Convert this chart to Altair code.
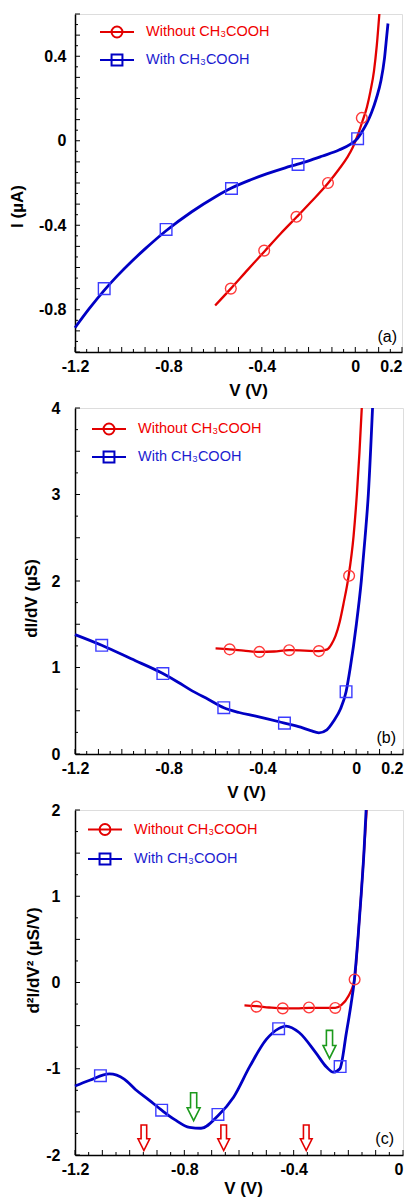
import altair as alt
import pandas as pd
import numpy as np

FONT = "Liberation Sans"
NAME_WO = "Without CH₃COOH"
NAME_W = "With CH₃COOH"

# ---------------- Panel (a): I-V ----------------
a_red_V = [-0.60, -0.533, -0.46, -0.39, -0.32, -0.25, -0.19, -0.116, -0.07, -0.035, -0.01, 0.01, 0.03, 0.05, 0.065, 0.08, 0.092, 0.103]
a_red_Y = [-0.78, -0.70, -0.61, -0.525, -0.44, -0.36, -0.29, -0.20, -0.135, -0.08, -0.03, 0.025, 0.09, 0.16, 0.235, 0.33, 0.45, 0.60]
a_blue_V = [-1.2, -1.14, -1.075, -1.02, -0.96, -0.9, -0.81, -0.7, -0.6, -0.53, -0.45, -0.38, -0.3, -0.25, -0.2, -0.14, -0.07, -0.02, 0.01, 0.03, 0.05, 0.07, 0.09, 0.11, 0.125, 0.135, 0.14]
a_blue_Y = [-0.885, -0.796, -0.708, -0.641, -0.574, -0.512, -0.426, -0.336, -0.266, -0.224, -0.186, -0.157, -0.128, -0.112, -0.095, -0.072, -0.044, -0.016, 0.011, 0.045, 0.085, 0.135, 0.2, 0.285, 0.39, 0.5, 0.555]
a_red_mV = [-0.533, -0.39, -0.252, -0.117, 0.028]
a_red_mY = [-0.70, -0.52, -0.36, -0.20, 0.108]
a_blue_mV = [-1.075, -0.81, -0.53, -0.245, 0.01]
a_blue_mY = [-0.70, -0.42, -0.226, -0.112, 0.01]

# ---------------- Panel (b): dI/dV ----------------
b_red_V = [-0.60, -0.54, -0.48, -0.413, -0.35, -0.286, -0.22, -0.159, -0.123, -0.105, -0.088, -0.07, -0.053, -0.032, -0.011, 0.003, 0.014, 0.024]
b_red_Y = [1.22, 1.21, 1.195, 1.18, 1.185, 1.20, 1.195, 1.19, 1.21, 1.27, 1.365, 1.53, 1.75, 2.06, 2.52, 3.0, 3.48, 4.0]
b_blue_V = [-1.2, -1.086, -0.96, -0.825, -0.76, -0.7, -0.63, -0.565, -0.5, -0.433, -0.37, -0.306, -0.237, -0.194, -0.159, -0.125, -0.095, -0.067, -0.043, -0.025, 0.001, 0.022, 0.038, 0.052, 0.07]
b_blue_Y = [1.38, 1.257, 1.1, 0.93, 0.83, 0.73, 0.63, 0.535, 0.48, 0.44, 0.40, 0.357, 0.31, 0.27, 0.245, 0.28, 0.385, 0.52, 0.72, 1.0, 1.5, 2.0, 2.5, 3.0, 4.0]
b_red_mV = [-0.54, -0.413, -0.286, -0.159, -0.03]
b_red_mY = [1.21, 1.18, 1.2, 1.19, 2.06]
b_blue_mV = [-1.086, -0.825, -0.565, -0.306, -0.043]
b_blue_mY = [1.257, 0.93, 0.535, 0.357, 0.72]

# ---------------- Panel (c): d2I/dV2 ----------------
c_red_V = [-0.58, -0.536, -0.49, -0.44, -0.39, -0.344, -0.296, -0.248, -0.225, -0.2, -0.177, -0.165, -0.153, -0.143, -0.133]
c_red_Y = [-0.266, -0.275, -0.29, -0.30, -0.30, -0.295, -0.295, -0.295, -0.26, -0.16, 0.04, 0.5, 1.02, 1.5, 2.0]
c_blue_V = [-1.2, -1.146, -1.074, -1.02, -0.979, -0.93, -0.883, -0.835, -0.781, -0.739, -0.677, -0.62, -0.56, -0.50, -0.455, -0.428, -0.38, -0.32, -0.28, -0.255, -0.231, -0.207, -0.19, -0.179, -0.165, -0.153, -0.143, -0.135]
c_blue_Y = [-1.2, -1.133, -1.06, -1.12, -1.24, -1.36, -1.48, -1.59, -1.68, -1.69, -1.545, -1.33, -0.97, -0.66, -0.535, -0.505, -0.58, -0.81, -0.98, -1.04, -1.0, -0.58, -0.25, 0.0, 0.5, 1.02, 1.5, 2.0]
c_red_mV = [-0.536, -0.44, -0.344, -0.248, -0.177]
c_red_mY = [-0.28, -0.30, -0.29, -0.295, 0.035]
c_blue_mV = [-1.107, -0.883, -0.677, -0.455, -0.23]
c_blue_mY = [-1.08, -1.48, -1.53, -0.535, -0.975]
c_green_arrow_V = [-0.766, -0.269]
c_green_arrow_Y = [-1.44, -0.717]
c_red_arrow_V = [-0.948, -0.656, -0.354]
c_red_arrow_Y = [-1.80, -1.80, -1.80]

# ---------------- styles ----------------
RED_LINE = "#e30000"
BLUE_LINE = "#0000c4"
RED_MK = "#ff3a3a"
BLUE_MK = "#3c3cff"
GREEN = "#1c9a1c"
RED_LBL = "#f00000"
BLUE_LBL = "#1c1cd0"
PATH_CIRC = "M-1,0L1,0M0.32,0A0.32,0.32,0,1,1,-0.32,0A0.32,0.32,0,1,1,0.32,0"
PATH_SQ = "M-1,0L1,0M-0.32,-0.32L0.32,-0.32L0.32,0.32L-0.32,0.32Z"
ARROW = "M-0.22,-1L0.22,-1L0.22,0.08L0.46,0.08L0,1L-0.46,0.08L-0.22,0.08Z"


def rng(a, b, step):
    n = int(round((b - a) / step))
    return [round(a + i * step, 4) for i in range(n + 1)]


def panel(cfg):
    xs = alt.Scale(domain=cfg["xdom"], nice=False, zero=False)
    ys = alt.Scale(domain=cfg["ydom"], nice=False, zero=False)
    x0, x1 = cfg["xdom"]
    y0, y1 = cfg["ydom"]
    xaxis = alt.Axis(values=cfg["xlabels"], labelExpr="toString(datum.value)", ticks=False, grid=False,
                     labelFlush=False,
                     labelAlign={"condition": {"test": cfg["last_test"], "value": "right"}, "value": "center"},
                     title="V (V)", labelFontSize=16, labelFontWeight="bold", labelPadding=6,
                     titleFontSize=17, titleFontWeight="bold", titleX=cfg["xtitle_x"], titleY=cfg["xtitle_y"],
                     titleBaseline="middle", domainColor="black", domainWidth=1.5,
                     labelColor="black", titleColor="black")
    yaxis = alt.Axis(values=cfg["ylabels"], labelExpr="toString(datum.value)", ticks=False, grid=False,
                     labelFlush=False, title=cfg["ytitle"], labelFontSize=16, labelFontWeight="bold",
                     labelPadding=cfg["ylabpad"], titleFontSize=17, titleFontWeight="bold",
                     titleX=cfg["ytitle_x"], titleY=cfg["ytitle_y"],
                     titleBaseline="middle", titleAlign="center", titleAngle=270,
                     domainColor="black", domainWidth=1.5, labelColor="black", titleColor="black")

    def df(v, y):
        return pd.DataFrame({"V": v, "y": y})

    def XY():
        return dict(x=alt.X("V:Q", scale=xs, axis=xaxis), y=alt.Y("y:Q", scale=ys, axis=yaxis))

    layers = []
    layers.append(alt.Chart(df(cfg["rV"], cfg["rY"])).mark_line(color=RED_LINE, strokeWidth=2.3, interpolate="monotone").encode(**XY()))
    layers.append(alt.Chart(df(cfg["bV"], cfg["bY"])).mark_line(color=BLUE_LINE, strokeWidth=2.8, interpolate="monotone").encode(**XY()))
    layers.append(alt.Chart(df(cfg["rmV"], cfg["rmY"])).mark_point(shape="circle", size=115, filled=False, color=RED_MK, strokeWidth=1.4, opacity=1).encode(**XY()))
    layers.append(alt.Chart(df(cfg["bmV"], cfg["bmY"])).mark_point(shape="square", size=135, filled=False, color=BLUE_MK, strokeWidth=1.4, opacity=1).encode(**XY()))

    for av, ay, col, sz in cfg.get("arrows", []):
        layers.append(alt.Chart(df(av, ay)).mark_point(shape=ARROW, size=sz, filled=True, fill="white", stroke=col, strokeWidth=1.6, opacity=1).encode(**XY()))

    for vals, ln in ((cfg["xmaj"], 5), (cfg["xmin"], 3)):
        layers.append(alt.Chart(pd.DataFrame({"V": vals, "y": [y0] * len(vals)})).mark_rule(color="black", strokeWidth=1, y2Offset=-ln).encode(
            y2="y:Q", **XY()))
    for vals, ln in ((cfg["ymaj"], 5), (cfg["ymin"], 3)):
        layers.append(alt.Chart(pd.DataFrame({"y": vals, "V": [x0] * len(vals)})).mark_rule(color="black", strokeWidth=1, x2Offset=ln).encode(
            x2="V:Q", **XY()))

    layers.append(alt.Chart(pd.DataFrame({"tag": [cfg["tag"]], "V": [x1], "y": [y0]})).mark_text(
        align="right", baseline="alphabetic", dx=cfg["tag_dx"], dy=cfg["tag_dy"], fontSize=16, font=FONT, color="black").encode(
        text="tag:N", **XY()))

    leg = alt.Legend(orient="none", legendX=cfg["legx"], legendY=cfg["legy"], title=None, padding=0,
                     symbolSize=1156, symbolStrokeWidth=2, symbolFillColor="transparent",
                     labelFontSize=14.5, labelFont=FONT, labelOffset=11, rowPadding=cfg["legrow"],
                     labelColor={"expr": f"indexof(datum.label, 'Without') >= 0 ? '{RED_LBL}' : '{BLUE_LBL}'"})
    legdf = pd.DataFrame({"series": [NAME_WO, NAME_W], "V": [x0, x0], "y": [y0, y0]})
    layers.append(alt.Chart(legdf).transform_filter("false").mark_point(filled=False, opacity=1, strokeWidth=2).encode(
        color=alt.Color("series:N", scale=alt.Scale(domain=[NAME_WO, NAME_W], range=[RED_LINE, BLUE_LINE]), legend=leg),
        shape=alt.Shape("series:N", scale=alt.Scale(domain=[NAME_WO, NAME_W], range=[PATH_CIRC, PATH_SQ]), legend=leg),
        **XY()))

    return alt.layer(*layers).properties(width=cfg["w"], height=cfg["h"])


pa = panel(dict(xdom=[-1.2, 0.2], ydom=[-1.0, 0.6], w=327, h=338,
                xlabels=[-1.2, -0.8, -0.4, 0, 0.2], ylabels=[0.4, 0, -0.4, -0.8], last_test="datum.value > 0.1",
                xmaj=rng(-1.2, 0.2, 0.1), xmin=rng(-1.15, 0.15, 0.1),
                ymaj=rng(-1.0, 0.6, 0.1), ymin=rng(-0.95, 0.55, 0.1),
                ytitle="I (µA)", ylabpad=9, ytitle_x=-57.5, ytitle_y=192, xtitle_x=173, xtitle_y=38,
                rV=a_red_V, rY=a_red_Y, bV=a_blue_V, bY=a_blue_Y,
                rmV=a_red_mV, rmY=a_red_mY, bmV=a_blue_mV, bmY=a_blue_mY,
                tag="(a)", tag_dx=-5, tag_dy=-10, legx=24, legy=0, legrow=0))

pb = panel(dict(xdom=[-1.2, 0.2], ydom=[0, 4], w=328, h=346,
                xlabels=[-1.2, -0.8, -0.4, 0, 0.2], ylabels=[0, 1, 2, 3, 4], last_test="datum.value > 0.1",
                xmaj=rng(-1.2, 0.2, 0.1), xmin=rng(-1.15, 0.15, 0.1),
                ymaj=rng(0, 4, 0.5), ymin=rng(0.25, 3.75, 0.5),
                ytitle="dI/dV (µS)", ylabpad=15, ytitle_x=-44, ytitle_y=190, xtitle_x=171, xtitle_y=38,
                rV=b_red_V, rY=b_red_Y, bV=b_blue_V, bY=b_blue_Y,
                rmV=b_red_mV, rmY=b_red_mY, bmV=b_blue_mV, bmY=b_blue_mY,
                tag="(b)", tag_dx=-7, tag_dy=-11, legx=16, legy=3, legrow=0))

pc = panel(dict(xdom=[-1.2, 0], ydom=[-2, 2], w=328, h=345,
                xlabels=[-1.2, -0.8, -0.4, 0], ylabels=[-2, -1, 0, 1, 2], last_test="datum.value > -0.1",
                xmaj=rng(-1.2, 0, 0.1), xmin=rng(-1.15, -0.05, 0.1),
                ymaj=rng(-2, 2, 0.5), ymin=rng(-1.75, 1.75, 0.5),
                ytitle="d²I/dV² (µS/V)", ylabpad=15, ytitle_x=-42, ytitle_y=150, xtitle_x=168, xtitle_y=33,
                rV=c_red_V, rY=c_red_Y, bV=c_blue_V, bY=c_blue_Y,
                rmV=c_red_mV, rmY=c_red_mY, bmV=c_blue_mV, bmY=c_blue_mY,
                arrows=[(c_green_arrow_V, c_green_arrow_Y, GREEN, 784), (c_red_arrow_V, c_red_arrow_Y, RED_LINE, 650)],
                tag="(c)", tag_dx=-9, tag_dy=-11, legx=12, legy=1.5, legrow=1.5))

chart = alt.vconcat(pa, pb, pc, spacing=56, bounds="flush").resolve_scale(
    color="independent", shape="independent").resolve_legend(
    color="independent", shape="independent").properties(
    padding={"top": 0, "left": 0, "right": 0, "bottom": 0}).configure_view(
    stroke="#555555", strokeWidth=1.5).configure(font=FONT)

chart.save("out.html", embed_options={"renderer": "svg", "actions": False})
